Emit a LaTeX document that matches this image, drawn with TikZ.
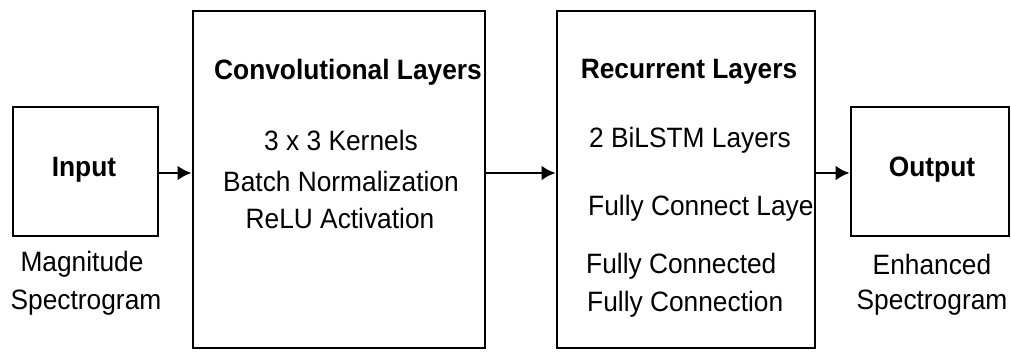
\documentclass[tikz,border=0pt]{standalone}
\usepackage{fontspec}
\setmainfont[FakeStretch=0.94]{Liberation Sans}
\usetikzlibrary{arrows.meta}

\begin{document}
\begin{tikzpicture}[x=1pt,y=-1pt,
        box/.style={draw,line width=2.9pt,inner sep=0pt},
        txt/.style={inner sep=0pt,font=\fontsize{28}{32}\selectfont},
        head/.style={inner sep=0pt,font=\fontsize{28}{32}\selectfont\bfseries},
        flow/.style={line width=2.9pt,-{Latex[length=14pt,width=15pt]}}]
        \useasboundingbox (0,0) rectangle (1011,351);

        % blocks
        \node[box,minimum width=145,minimum height=129] (input) at (85.5,171.5) {};
        \node[box,minimum width=292,minimum height=337] (conv) at (339,179.5) {};
        \node[box,minimum width=258,minimum height=337] (rec) at (686,179.5) {};
        \node[box,minimum width=158,minimum height=129] (output) at (930,171.5) {};

        % input
        \node[head] (inlbl) at (84,170) {Input};
        \node[txt] (mag) at (82,264) {Magnitude};
        \node[txt] (spec) at (86,303) {Spectrogram};

        % convolutional layers
        \node[head] (convlbl) at (348,72) {Convolutional Layers};
        \node[txt] (kern) at (341,140) {3 x 3 Kernels};
        \node[txt] (bn) at (341,181) {Batch Normalization};
        \node[txt] (relu) at (340,218) {ReLU Activation};

        % recurrent layers
        \node[head] (reclbl) at (689,72) {Recurrent Layers};
        \node[txt] (bilstm) at (690,140) {2 BiLSTM Layers};
        \node[txt,anchor=west] (fc1) at (588,208) {Fully Connect Laye};
        \node[txt,anchor=west] (fc2) at (586,266) {Fully Connected};
        \node[txt,anchor=west] (fc3) at (587,304) {Fully Connection};

        % output
        \node[head] (outlbl) at (932,170) {Output};
        \node[txt] (enh) at (932,264) {Enhanced};
        \node[txt] (spec2) at (932,303) {Spectrogram};

        % arrows
        \draw[flow] (input.east |- 0,173) -- (conv.west |- 0,173);
        \draw[flow] (conv.east |- 0,173) -- (rec.west |- 0,173);
        \draw[flow] (rec.east |- 0,173) -- (output.west |- 0,173);
    \end{tikzpicture}
\end{document}
